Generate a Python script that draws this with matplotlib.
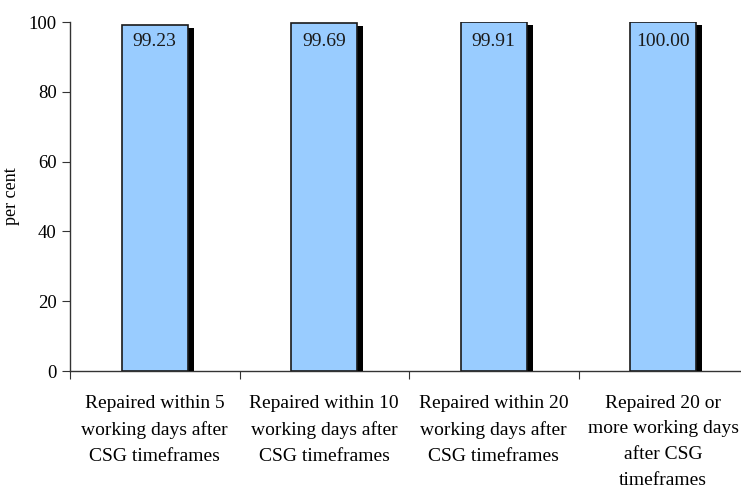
import matplotlib
matplotlib.use("Agg")
import matplotlib.pyplot as plt
import matplotlib.patheffects as pe
import numpy as np

plt.rcParams['font.family'] = ['Liberation Serif', 'DejaVu Serif']

categories = ["Repaired within 5\nworking days after\nCSG timeframes",
              "Repaired within 10\nworking days after\nCSG timeframes",
              "Repaired within 20\nworking days after\nCSG timeframes",
              "Repaired 20 or\nmore working days\nafter CSG\ntimeframes"]
values = [99.23, 99.69, 99.91, 100.00]
labels = ["99.23", "99.69", "99.91", "100.00"]

fig = plt.figure(figsize=(7.41, 4.90), dpi=100)
ax = fig.add_axes([70/741, 1-371/490, 1-70/741, (371-22)/490])

x = np.arange(len(values))
bars = ax.bar(x, values, width=0.39, color="#99ccff", edgecolor="#1a1a1a", linewidth=1.2, zorder=3)
for b in bars:
    b.set_path_effects([pe.SimplePatchShadow(offset=(4.4, -2.2), shadow_rgbFace="black", alpha=1.0),
                        pe.Normal()])

for xi, lab in zip(x, labels):
    ax.text(xi, 94.3, lab, ha="center", va="center", fontsize=14, color="#1a1a1a", zorder=4)

ax.set_ylim(0, 100)
ax.set_xlim(-0.5, -0.5 + (741-70)/169.5)
ax.set_yticks(range(0, 101, 20))
ax.set_ylabel("per cent", fontsize=13)
ax.yaxis.set_label_coords(-0.075, 0.5)

ax.set_xticks([-0.5, 0.5, 1.5, 2.5])
ax.set_xticklabels([])
ax.set_xticks(x, minor=True)
ax.set_xticklabels(categories, minor=True, fontsize=14, linespacing=1.68)
ax.tick_params(axis="x", which="minor", length=0, pad=17)
ax.tick_params(axis="x", which="major", length=6, direction="out", color="#333333")
ax.tick_params(axis="y", length=6, direction="out", labelsize=13.5, color="#333333")

for s in ["top", "right"]:
    ax.spines[s].set_visible(False)
for s in ["left", "bottom"]:
    ax.spines[s].set_color("#333333")
    ax.spines[s].set_linewidth(1.0)

fig.savefig("out.png", dpi=100)
